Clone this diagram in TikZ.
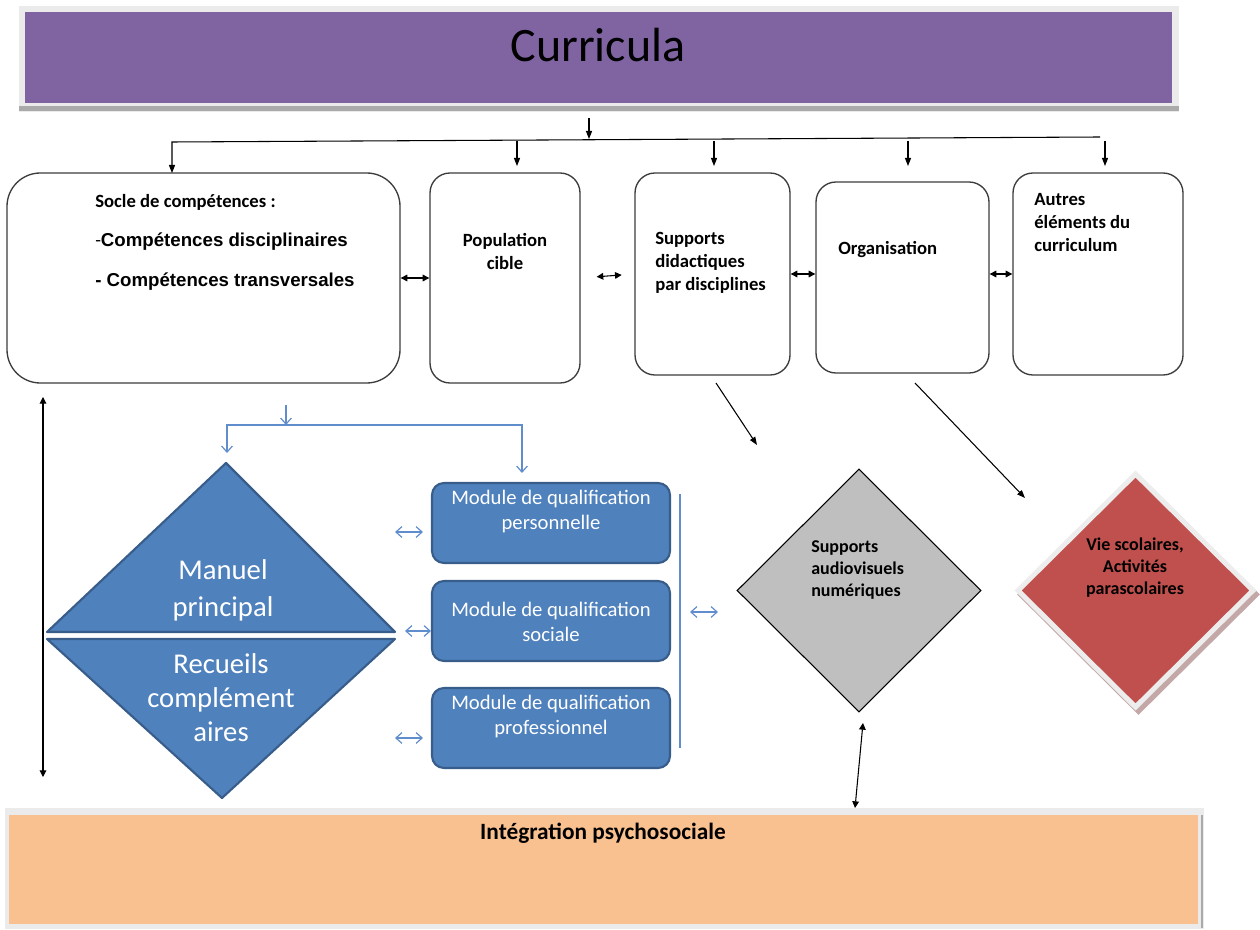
\documentclass[tikz,border=0pt]{standalone}
\usepackage{fontspec}
\setmainfont{Carlito}
\newfontfamily\arialf{Liberation Sans}
\usetikzlibrary{arrows.meta,shapes.geometric,fit}
\newcommand\pxu[1]{#1*0.75pt}
\definecolor{cpurple}{RGB}{128,100,162}
\definecolor{framegray}{RGB}{235,235,235}
\definecolor{framedark}{RGB}{170,170,170}
\definecolor{boxline}{RGB}{60,60,60}
\definecolor{cblue}{RGB}{79,129,189}
\definecolor{cbluedark}{RGB}{56,93,138}
\definecolor{cbluearr}{RGB}{96,141,203}
\definecolor{cgray}{RGB}{191,191,191}
\definecolor{cred}{RGB}{192,80,77}
\definecolor{credshadow}{RGB}{196,168,168}
\definecolor{corange}{RGB}{249,192,144}
\begin{document}
\begin{tikzpicture}[x=0.75pt,y=-0.75pt,
  wbox/.style={draw=boxline, line width=1pt, fill=white, inner sep=0pt, rounded corners=15pt},
  mbox/.style={draw=cbluedark, line width=1.6pt, fill=cblue, inner sep=0pt, rounded corners=9pt},
  btxt/.style={inner sep=0pt, font=\fontsize{14}{17.25}\selectfont\bfseries},
  mtxt/.style={inner sep=0pt, text=white, align=center, font=\fontsize{15.5}{18.75}\selectfont},
  dtxt/.style={inner sep=0pt, font=\fontsize{13.5}{16.5}\selectfont\bfseries},
  arr/.style={draw=black, line width=0.8pt, -{Triangle[length=6pt,width=4.5pt]}},
  darr/.style={draw=black, line width=0.8pt, {Triangle[length=5pt,width=5pt]}-{Triangle[length=5pt,width=5pt]}},
  bluearr/.style={draw=cbluearr, line width=0.9pt},
  barb/.style={bluearr, {Straight Barb[length=4.5pt,width=8pt]}-{Straight Barb[length=4.5pt,width=8pt]}},
]
\useasboundingbox (0,0) rectangle (1260,930);

% ---------- Curricula title ----------
\fill[framegray] (19,6) rectangle (1179,112);
\fill[framedark] (19,106) rectangle (1179,111);
\node[fill=cpurple, inner sep=0pt, fit={(25,12) (1172,103)}] (curr) {};
\node[inner sep=0pt, font=\fontsize{36}{40}\selectfont] at (598,45) {Curricula};

% ---------- top boxes ----------
\node[wbox, rounded corners=25pt, fit={(7,173) (400,383)}] (socle) {};
\node[wbox, fit={(430,173) (580,383)}] (pop) {};
\node[wbox, fit={(635,173) (790,375)}] (supp) {};
\node[wbox, fit={(816,182) (989,373)}] (orga) {};
\node[wbox, fit={(1013,173) (1183,375)}] (autres) {};

\node[btxt, anchor=west] at (95,202) {Socle de compétences :};
\node[inner sep=0pt, anchor=west, font=\fontsize{14}{17}\selectfont] at (95,242) {-\arialf\bfseries Compétences disciplinaires};
\node[inner sep=0pt, anchor=west, font=\fontsize{14}{17}\selectfont\arialf\bfseries] at (95,282) {- Compétences transversales};
\node[btxt, align=center] at (505,251.5) {Population\\cible};
\node[btxt, align=left, anchor=west] at (655,263) {Supports\\didactiques\\par disciplines};
\node[btxt, anchor=west] at (838,250) {Organisation};
\node[btxt, align=left, anchor=west] at (1034,223) {Autres\\éléments du\\curriculum};

% ---------- top connectors ----------
\coordinate (c0) at (589,118);
\coordinate (c1) at (589,139);
\coordinate (hl) at (1100,137);
\coordinate (hr) at (172,142);
\coordinate (s0) at (172,173);
\draw[arr] (c0) -- (c1);
\draw[arr] (hl) -- (hr) -- (s0);
\foreach \xx/\nm in {517/p,714/s,908/o,1105/a}{
  \coordinate (\nm a) at (\xx,141);
  \coordinate (\nm b) at (\xx,166);
  \draw[arr] (\nm a) -- (\nm b);
}
\draw[darr] (socle.east) -- (pop.west);
\draw[darr, shorten <=12pt, shorten >=9.5pt] (pop.east) -- (supp.west);
\draw[darr] (supp.east) -- (supp.east -| orga.west);
\draw[darr] (orga.east |- autres.west) -- (autres.west);

% ---------- diamonds ----------
\node[diamond, draw=black, line width=0.8pt, fill=cgray, inner sep=0pt,
  minimum width=\pxu{244}, minimum height=\pxu{243}] (gdia) at (859,590.5) {};
\node[dtxt, align=left, anchor=west] at (811,570) {Supports\\audiovisuels\\numériques};

\node[diamond, fill=credshadow, inner sep=0pt,
  minimum width=\pxu{243}, minimum height=\pxu{241}] at (1138.5,594.5) {};
\node[diamond, fill=cred, draw=white!93!black, line width=\pxu{5}, inner sep=0pt,
  minimum width=\pxu{237}, minimum height=\pxu{235}] (rdia) at (1135.5,590.5) {};
\node[dtxt, align=center] at (1135,568) {Vie scolaires,\\Activités\\parascolaires};

\coordinate (d1a) at (716,383);
\coordinate (d1b) at (757,445);
\coordinate (d2a) at (915,383);
\coordinate (d2b) at (1025,498);
\draw[arr] (d1a) -- (d1b);
\draw[arr] (d2a) -- (d2b);

% ---------- bottom box ----------
\fill[framegray] (5,808) rectangle (1204,929);
\draw[framedark, line width=1pt] (1202,815) -- (1202,928);
\node[fill=corange, inner sep=0pt, fit={(9,815) (1198,924)}] (integ) {};
\node[inner sep=0pt, font=\fontsize{17.5}{20}\selectfont\bfseries] at (603,833) {Intégration psychosociale};

\coordinate (g1) at (863,723);
\coordinate (g2) at (855,808);
\draw[darr] (g1) -- (g2);

% ---------- left vertical ----------
\coordinate (v1) at (43,397);
\coordinate (v2) at (43,777);
\draw[darr] (v1) -- (v2);

% ---------- triangles ----------
\coordinate (mtop) at (226,463);
\coordinate (rbot) at (222,798);
\draw[fill=cblue, draw=cbluedark, line width=1.6pt, line join=round] (mtop) -- (395,632) -- (47,632) -- cycle;
\draw[fill=cblue, draw=cbluedark, line width=1.6pt, line join=round] (47,639) -- (395,639) -- (rbot) -- cycle;
\node[mtxt, font=\fontsize{21.5}{27.75}\selectfont] at (223,590.5) {Manuel\\principal};
\node[mtxt, font=\fontsize{21.5}{25.5}\selectfont] at (221,698) {Recueils\\complément\\aires};

% ---------- modules ----------
\node[mbox, fit={(432,483) (670,563)}] (m1) {};
\node[mbox, fit={(432,581) (670,661)}] (m2) {};
\node[mbox, fit={(432,688) (670,768)}] (m3) {};
\node[mtxt] at (551,511.5) {Module de qualification\\personnelle};
\node[mtxt] at (551,621.5) {Module de qualification\\sociale};
\node[mtxt] at (551,716) {Module de qualification\\professionnel};

% ---------- blue connectors ----------
\coordinate (bs0) at (286,405);
\coordinate (bs1) at (286,425);
\draw[bluearr, -{Straight Barb[length=4.5pt,width=8pt]}] (bs0) -- (bs1);
\coordinate (bl0) at (227,453);
\coordinate (bl1) at (227,425);
\coordinate (bl2) at (522,425);
\coordinate (bl3) at (522,473);
\draw[barb] (bl0) -- (bl1) -- (bl2) -- (bl3);

\coordinate (e1a) at (395,532); \coordinate (e1b) at (423,532);
\coordinate (e3a) at (395,738); \coordinate (e3b) at (423,738);
\coordinate (e2a) at (405,631);
\coordinate (e4a) at (690,612); \coordinate (e4b) at (718,612);
\draw[barb] (e1a) -- (e1b);
\draw[barb] (e2a) -- (e2a -| m2.west);
\draw[barb] (e3a) -- (e3b);
\draw[barb] (e4a) -- (e4b);
\coordinate (vl0) at (680,494);
\coordinate (vl1) at (680,748);
\draw[bluearr] (vl0) -- (vl1);
\end{tikzpicture}
\end{document}
